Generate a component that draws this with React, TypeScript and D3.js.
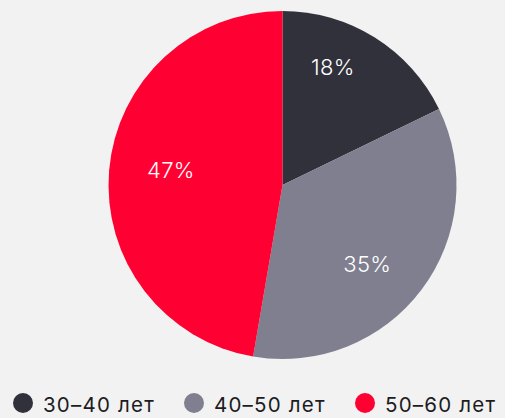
import React from "react";
import * as d3 from "d3";

const categories = ["30–40 лет", "40–50 лет", "50–60 лет"];
const values = [17.8, 34.9, 47.3];
const labels = ["18%", "35%", "47%"];
const colors = ["#30313b", "#7f7f8f", "#ff0033"];

const W = 505;
const H = 418;
const cx = 282.5;
const cy = 185;
const R = 174;
const labelR = 136;

export default function App() {
  const pie = d3.pie<number>().sort(null).value((d) => d)(values);
  const arc = d3.arc<d3.PieArcDatum<number>>().innerRadius(0).outerRadius(R);
  const legendX = d3.scalePoint<string>().domain(categories).range([23, 365]);

  return (
    <div style={{ position: "fixed", left: 0, top: 0, width: W, height: H, background: "#f2f2f2" }}>
      <svg width={W} height={H} style={{ display: "block", fontFamily: "Inter, 'Noto Sans', sans-serif" }}>
        <rect width={W} height={H} fill="#f2f2f2" />
        <g transform={`translate(${cx},${cy})`}>
          {pie.map((p, i) => (
            <path key={i} d={arc(p) || ""} fill={colors[i]} />
          ))}
          {pie.map((p, i) => {
            const a = (p.startAngle + p.endAngle) / 2;
            const x = Math.sin(a) * labelR;
            const y = -Math.cos(a) * labelR;
            return (
              <text
                key={i}
                x={x}
                y={y}
                dy={5}
                textAnchor={x >= 0 ? "end" : "start"}
                fill="#ffffff"
                fontSize={22}
                fontWeight={300}
                letterSpacing={0.3}
              >
                {labels[i]}
              </text>
            );
          })}
        </g>
        {categories.map((c, i) => {
          const x = legendX(c) as number;
          return (
            <g key={c}>
              <circle cx={x} cy={403} r={10} fill={colors[i]} />
              <text x={x + 20} y={411.7} fontSize={20.5} letterSpacing={1.2} fill="#1c1c22">
                {c}
              </text>
            </g>
          );
        })}
      </svg>
    </div>
  );
}
